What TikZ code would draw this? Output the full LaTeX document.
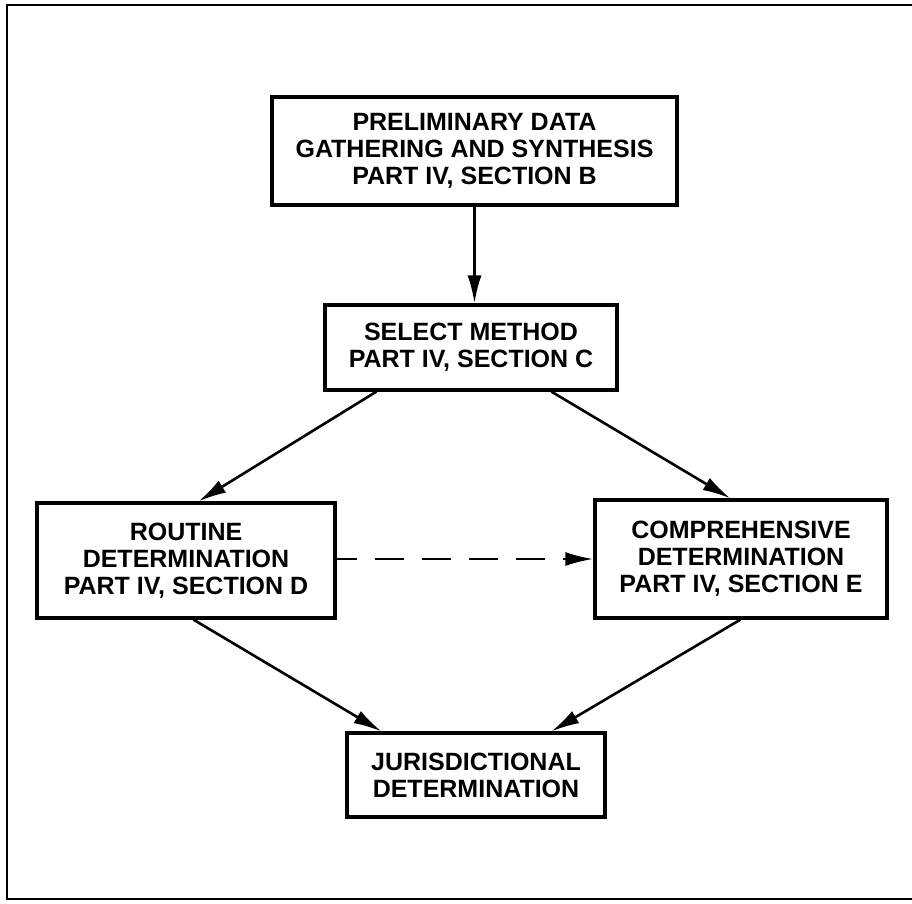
\documentclass[tikz,border=0pt]{standalone}
\usepackage{fontspec}
\setmainfont{Liberation Sans}
\usetikzlibrary{arrows.meta}
\tikzset{
  box/.style={draw, line width=3.2pt, rectangle, align=center, inner sep=0pt,
    font=\fontsize{25}{27}\selectfont\bfseries},
  conn/.style={line width=2.6pt, -{Latex[length=28pt,width=14pt]}},
  frame/.style={line width=2.8pt}
}
\begin{document}
\begin{tikzpicture}[x=1pt,y=-1pt]
\useasboundingbox (0,0) rectangle (912,903);
\draw[frame] (915,5) -- (7,5) -- (7,899) -- (915,899);

\node[box, minimum width=405pt, minimum height=108pt] (b1) at (474.5,151)
  {PRELIMINARY DATA\\GATHERING AND SYNTHESIS\\PART IV, SECTION B};
\node[box, minimum width=292pt, minimum height=85pt] (b2) at (471,347.5)
  {SELECT METHOD\\PART IV, SECTION C};
\node[box, minimum width=298pt, minimum height=115pt] (b3) at (186,560.5)
  {ROUTINE\\DETERMINATION\\PART IV, SECTION D};
\node[box, minimum width=292pt, minimum height=118pt] (b4) at (741,559)
  {COMPREHENSIVE\\DETERMINATION\\PART IV, SECTION E};
\node[box, minimum width=258pt, minimum height=84pt] (b5) at (476,775)
  {JURISDICTIONAL\\DETERMINATION};

\draw[conn] (b1.south) -- (b1.south |- b2.north);
\draw[conn] ([xshift=53pt]b2.south west) -- ([xshift=163pt]b3.north west);
\draw[conn] ([xshift=228pt]b2.south west) -- ([xshift=137pt]b4.north west);
\draw[conn] ([xshift=158pt]b3.south west) -- ([xshift=36pt]b5.north west);
\draw[conn] ([xshift=147pt]b4.south west) -- ([xshift=206pt]b5.north west);
\draw[conn, dash pattern=on 29pt off 18pt, dash phase=9pt]
  ([yshift=1.5pt]b3.east) -- ([yshift=1.5pt]b3.east -| b4.west);
\end{tikzpicture}
\end{document}
